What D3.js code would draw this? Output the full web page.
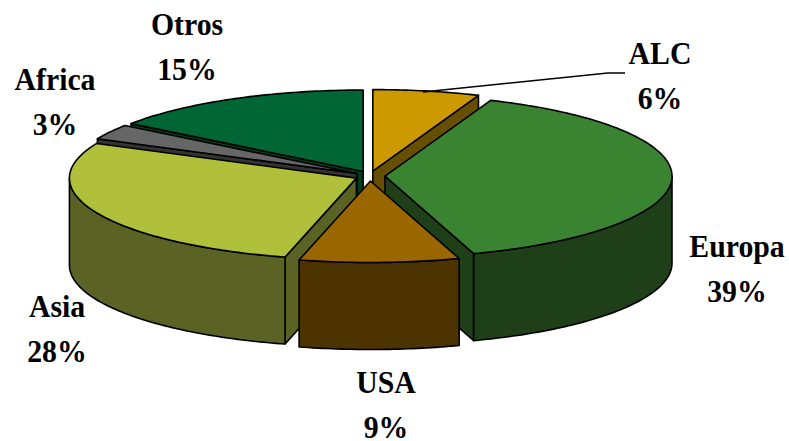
<!DOCTYPE html>
<html>
<head>
<meta charset="utf-8">
<script src="https://cdn.jsdelivr.net/npm/d3@7"></script>
<style>
  html, body { margin: 0; padding: 0; background: #fff; overflow: hidden; }
  svg { display: block; }
  text { font-family: "Liberation Serif", serif; font-weight: 700; fill: #000; }
</style>
</head>
<body>
<svg id="chart" width="789" height="441"></svg>
<script>
// Values, clockwise from 12 o'clock
const regions = ['ALC', 'Europa', 'USA', 'Asia', 'Africa', 'Otros'];
const shares = [6, 39, 9, 28, 3, 15];
const topColors = ['#cc9900', '#3a8431', '#996600', '#b0c03a', '#666666', '#006633'];
const sideColors = ['#665000', '#1e3f18', '#4d3300', '#5a6323', '#333333', '#003d1f'];
const labelX = [660, 737, 386, 57, 55, 187];
const labelY = [64, 257, 393, 317, 90, 35];

const width = 789, height = 441;
const cx = 370, cy = 176;
const rx = 287, ry = 81.5, depth = 87;
const explodeX = 15, explodeY = 5;

const svg = d3.select('#chart');

const xScale = d3.scaleLinear().domain([-1, 1]).range([-rx, rx]);
const yScale = d3.scaleLinear().domain([-1, 1]).range([ry, -ry]);

const pie = d3.pie().value(d => d.share).sort(null);
const data = regions.map((r, i) => ({ region: r, share: shares[i], top: topColors[i], side: sideColors[i], lx: labelX[i], ly: labelY[i] }));
const line = d3.line();

// slice centre after exploding along the bisector
function apex(d) {
    const mid = (d.startAngle + d.endAngle) / 2;
    return [cx + explodeX * Math.sin(mid), cy - explodeY * Math.cos(mid)];
}

function rim(d, a) {
    const [ax, ay] = apex(d);
    return [ax + xScale(Math.sin(a)), ay + yScale(Math.cos(a))];
}

function arcPoints(d, a0, a1) {
    const n = Math.max(2, Math.ceil((a1 - a0) * 60));
    return d3.range(n + 1).map(i => rim(d, a0 + (a1 - a0) * i / n));
}

const down = p => [p[0], p[1] + depth];

const slices = pie(data).sort((a, b) =>
    Math.cos((b.startAngle + b.endAngle) / 2) - Math.cos((a.startAngle + a.endAngle) / 2));

const g = svg.append('g')
    .attr('stroke', '#000')
    .attr('stroke-width', 1.6)
    .attr('stroke-linejoin', 'round');

slices.forEach(d => {
    const c = apex(d);
    const s = d.startAngle, e = d.endAngle;

    // cut faces, only the ones turned towards the viewer
    if (Math.sin(s) < -1e-6) {
        const p = rim(d, s);
        g.append('path').attr('fill', d.data.side)
            .attr('d', line([c, p, down(p), down(c)]) + 'Z');
    }
    if (Math.sin(e) > 1e-6) {
        const p = rim(d, e);
        g.append('path').attr('fill', d.data.side)
            .attr('d', line([c, p, down(p), down(c)]) + 'Z');
    }

    // outer wall on the front half
    const a0 = Math.max(s, Math.PI / 2), a1 = Math.min(e, Math.PI * 1.5);
    if (a1 > a0) {
        const arc = arcPoints(d, a0, a1);
        g.append('path').attr('fill', d.data.side)
            .attr('d', line(arc.concat(arc.map(down).reverse())) + 'Z');
    }

    g.append('path').attr('fill', d.data.top)
        .attr('d', line([c].concat(arcPoints(d, s, e))) + 'Z');
});

// Leader line for ALC
svg.append('path')
    .attr('fill', 'none')
    .attr('stroke', '#000')
    .attr('stroke-width', 1.5)
    .attr('d', line([[423, 92], [608, 73], [625, 73]]));

// Labels, the top of the chart cuts off the first line of Otros
svg.append('clipPath').attr('id', 'label-clip')
    .append('rect').attr('x', 0).attr('y', 13).attr('width', width).attr('height', height - 13);

const labels = svg.append('g')
    .attr('clip-path', 'url(#label-clip)')
    .attr('text-anchor', 'middle')
    .attr('font-size', 32);

// the original face is narrower than Liberation Serif, so squeeze it a little
const placeText = (x, y, str) => labels.append('text')
    .attr('transform', `translate(${x},${y}) scale(0.93,1)`)
    .text(str);

data.forEach(d => {
    placeText(d.lx, d.ly, d.region);
    placeText(d.lx, d.ly + 45, d.share + '%');
});
</script>
</body>
</html>
